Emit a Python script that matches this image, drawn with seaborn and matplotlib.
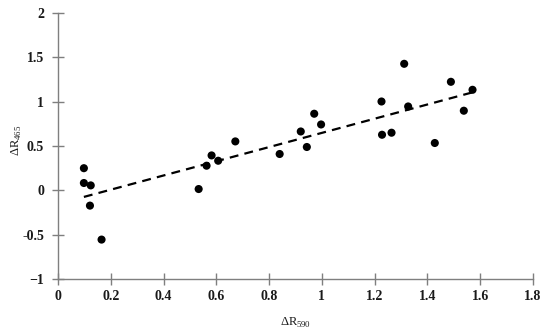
import numpy as np
import pandas as pd
import matplotlib
matplotlib.use("Agg")
import matplotlib.pyplot as plt
import seaborn as sns

# values
dR590 = [0.098, 0.098, 0.124, 0.121, 0.165, 0.533, 0.563, 0.582, 0.607, 0.672,
         0.840, 0.920, 0.943, 0.971, 0.997, 1.226, 1.228, 1.264, 1.312, 1.327,
         1.428, 1.489, 1.538, 1.571]
dR465 = [0.25, 0.083, 0.056, -0.172, -0.555, 0.015, 0.278, 0.394, 0.334, 0.552,
         0.410, 0.664, 0.489, 0.864, 0.743, 1.002, 0.627, 0.650, 1.427, 0.946,
         0.534, 1.224, 0.898, 1.134]

x_ticks = [0, 0.2, 0.4, 0.6, 0.8, 1, 1.2, 1.4, 1.6, 1.8]
x_labels = ["0", "0.2", "0.4", "0.6", "0.8", "1", "1.2", "1.4", "1.6", "1.8"]
y_ticks = [-1, -0.5, 0, 0.5, 1, 1.5, 2]
y_labels = ["\u22121", "-0.5", "0", "0.5", "1", "1.5", "2"]

df = pd.DataFrame({"dR590": dR590, "dR465": dR465})

sns.set_style("white")
plt.rcParams["font.family"] = ["Liberation Serif", "DejaVu Serif"]
plt.rcParams["mathtext.fontset"] = "custom"
plt.rcParams["mathtext.rm"] = "Liberation Serif"

fig = plt.figure(figsize=(5.5, 3.33), dpi=100)
ax = fig.add_axes([0.1055, 0.162, 0.8635, 0.799])

sns.regplot(data=df, x="dR590", y="dR465", ax=ax, ci=None,
            scatter_kws={"s": 34, "color": "black", "edgecolor": "none", "alpha": 1},
            line_kws={"color": "black", "lw": 1.6, "linestyle": (0, (4, 2.8))})

ax.set_xlim(0, 1.8)
ax.set_ylim(-1, 2)
ax.set_xticks(x_ticks)
ax.set_xticklabels(x_labels, fontweight="bold", fontsize=10, color="#1a1a1a")
ax.set_yticks(y_ticks)
ax.set_yticklabels(y_labels, fontweight="bold", fontsize=10, color="#1a1a1a")

for s in ["top", "right"]:
    ax.spines[s].set_visible(False)
for s in ["left", "bottom"]:
    ax.spines[s].set_color("#7f7f7f")
    ax.spines[s].set_linewidth(1.0)
ax.tick_params(axis="both", direction="inout", length=8, width=1.0,
               color="#7f7f7f", bottom=True, left=True)
ax.tick_params(axis="y", pad=6)
ax.tick_params(axis="x", pad=4)

ax.set_xlabel("\u0394R$_{590}$", fontsize=9, color="#1a1a1a")
ax.set_ylabel("\u0394R$_{465}$", fontsize=9, color="#1a1a1a")
ax.xaxis.set_label_coords(0.5, -0.14)
ax.yaxis.set_label_coords(-0.072, 0.52)

fig.savefig("out.png", dpi=100)
